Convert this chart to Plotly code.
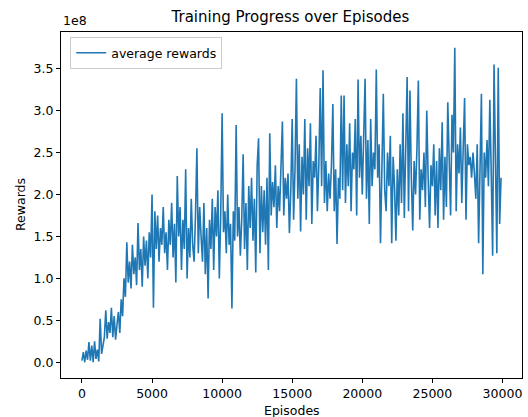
import numpy as np
import plotly.graph_objects as go

# Average reward per logging step (units of 1e8), logged every 100 episodes
episode_step = 100
avg_rewards_e8 = [
    0.02, 0.12, 0.00, 0.14, 0.03, 0.24, 0.02, 0.20, 0.00, 0.25,
    0.04, 0.15, 0.01, 0.52, 0.10, 0.22, 0.30, 0.62, 0.28, 0.48,
    0.35, 0.65, 0.30, 0.55, 0.27, 0.45, 0.60, 0.35, 0.75, 0.55,
    1.00, 0.78, 1.43, 0.95, 1.20, 0.88, 1.40, 1.05, 1.25, 0.92,
    1.66, 1.10, 1.35, 0.90, 1.50, 1.15, 1.45, 1.00, 1.55, 1.25,
    2.00, 0.65, 1.80, 1.35, 1.75, 1.20, 1.60, 1.40, 1.85, 1.30,
    1.55, 1.10, 1.70, 1.40, 1.90, 1.25, 1.65, 0.95, 2.22, 1.50,
    1.85, 1.10, 1.70, 1.35, 2.30, 1.00, 1.60, 1.25, 1.95, 1.40,
    1.20, 1.75, 2.55, 1.30, 1.85, 1.50, 1.20, 1.90, 1.05, 1.60,
    0.76, 1.70, 1.35, 1.95, 1.10, 1.85, 1.50, 2.05, 1.00, 1.75,
    2.97, 1.55, 1.80, 1.30, 2.00, 1.40, 1.65, 0.64, 1.80, 1.45,
    2.83, 1.50, 1.85, 1.27, 1.70, 2.48, 1.35, 1.90, 1.10, 2.10,
    1.60, 2.20, 1.45, 1.95, 1.07, 2.34, 2.67, 1.30, 2.10, 1.55,
    2.05, 1.40, 2.20, 1.10, 2.73, 1.75, 2.15, 1.85, 2.35, 1.60,
    2.10, 1.80, 2.40, 2.87, 1.75, 2.20, 1.95, 2.25, 1.54, 2.05,
    2.90, 1.70, 2.30, 3.38, 1.95, 2.60, 1.56, 2.45, 2.00, 2.90,
    1.70, 2.55, 2.10, 2.85, 1.65, 2.40, 2.20, 2.70, 1.80, 2.35,
    3.27, 2.10, 3.48, 1.90, 2.40, 1.80, 2.25, 1.95, 2.35, 3.08,
    1.80, 2.30, 1.41, 2.20, 1.95, 3.18, 2.05, 3.18, 1.90, 2.60,
    2.10, 2.85, 1.80, 2.50, 2.30, 2.90, 1.75, 3.37, 2.20, 2.70,
    2.00, 2.80, 3.38, 1.95, 2.65, 1.65, 2.90, 2.10, 2.50, 2.30,
    3.49, 2.20, 2.60, 1.42, 2.40, 3.20, 2.05, 1.80, 2.50, 2.10,
    2.70, 1.42, 2.45, 2.10, 1.45, 2.30, 1.75, 2.60, 1.90, 2.97,
    1.72, 2.45, 3.40, 1.80, 3.24, 2.20, 1.57, 2.40, 2.00, 2.55,
    3.36, 1.70, 2.30, 2.05, 2.50, 1.85, 3.00, 2.20, 1.60, 2.35,
    2.10, 2.60, 1.75, 2.40, 1.60, 2.55, 2.05, 2.86, 1.70, 2.45,
    1.85, 3.10, 2.30, 1.75, 2.95, 2.50, 3.75, 1.80, 2.60, 2.25,
    2.80, 1.90, 2.55, 3.15, 1.70, 2.60, 2.35, 2.45, 2.20, 2.50,
    2.25, 1.95, 2.60, 1.42, 2.30, 3.20, 1.05, 2.50, 2.20, 2.65,
    2.10, 3.13, 2.25, 1.27, 3.55, 2.30, 1.30, 3.51, 1.65, 2.20,
]
x_ticks = [0, 5000, 10000, 15000, 20000, 25000, 30000]
y_ticks_e8 = [0.0, 0.5, 1.0, 1.5, 2.0, 2.5, 3.0, 3.5]

rewards = np.array(avg_rewards_e8) * 1e8
episodes = np.arange(len(rewards)) * episode_step

# 5% padding around the data, like a default autoscaled axis
def padded(lo, hi, frac=0.05):
    span = hi - lo
    return [lo - frac * span, hi + frac * span]

font = "DejaVu Sans"
fig = go.Figure()
fig.add_trace(go.Scatter(
    x=episodes, y=rewards, mode="lines", name="average rewards",
    line=dict(color="#1f77b4", width=1.6),
))

axis_common = dict(
    showline=True, linecolor="black", linewidth=1, mirror=True,
    ticks="outside", ticklen=4, tickwidth=1, tickcolor="black",
    showgrid=False, zeroline=False, automargin=False,
    tickfont=dict(family=font, size=12.5, color="black"),
)
fig.update_xaxes(
    range=padded(episodes.min(), episodes.max()),
    tickvals=x_ticks, ticktext=[str(t) for t in x_ticks],
    **axis_common,
)
fig.update_yaxes(
    range=padded(rewards.min(), rewards.max()),
    tickvals=[v * 1e8 for v in y_ticks_e8],
    ticktext=[f"{v:.1f}" for v in y_ticks_e8],
    **axis_common,
)

label_font = dict(family=font, size=12.5, color="black")
fig.update_layout(
    width=528, height=417,
    margin=dict(l=61, r=6, t=32, b=39),
    paper_bgcolor="white", plot_bgcolor="white",
    font=dict(family=font, color="black"),
    title=dict(text="Training Progress over Episodes", x=0.55, xanchor="center",
               y=1 - 17 / 417, yanchor="middle",
               font=dict(family=font, size=15, color="black")),
    showlegend=True,
    legend=dict(x=0.02, y=0.985, xanchor="left", yanchor="top",
                bgcolor="rgba(255,255,255,0.8)", bordercolor="#cccccc", borderwidth=1,
                font=label_font, tracegroupgap=0, itemwidth=30),
    annotations=[
        dict(text="1e8", xref="paper", yref="paper", x=0, y=1,
             xanchor="left", yanchor="bottom", yshift=2, showarrow=False,
             font=label_font),
        dict(text="Episodes", xref="paper", yref="paper", x=0.5, y=0,
             xanchor="center", yanchor="middle", yshift=-32, showarrow=False,
             font=label_font),
        dict(text="Rewards", xref="paper", yref="paper", x=0, y=0.5,
             xanchor="center", yanchor="middle", xshift=-41, textangle=-90,
             showarrow=False, font=label_font),
    ],
)

fig.write_html("out.html")
